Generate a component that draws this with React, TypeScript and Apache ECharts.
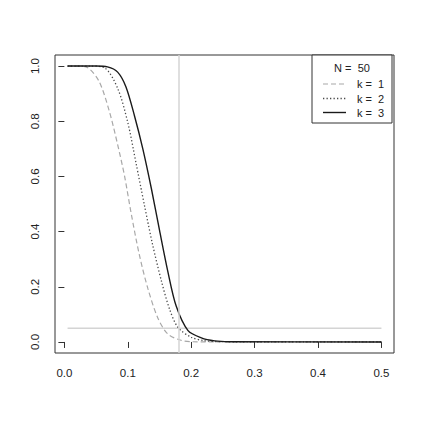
import React, { useEffect, useRef } from "react";
import * as echarts from "echarts";

const xTicks = [0, 0.1, 0.2, 0.3, 0.4, 0.5];
const yTicks = [0, 0.2, 0.4, 0.6, 0.8, 1.0];

const seriesNames = ["k =  1", "k =  2", "k =  3"];
const legendTitle = "N =  50";

const k1X = [0.005, 0.02, 0.037, 0.055, 0.071, 0.084, 0.095, 0.105, 0.118, 0.1315, 0.147, 0.163, 0.184, 0.2, 0.25, 0.5];
const k1Y = [1.0, 1.0, 0.994, 0.943, 0.835, 0.715, 0.6, 0.47, 0.318, 0.195, 0.089, 0.029, 0.006, 0.001, 0, 0];

const k2X = [0.005, 0.04, 0.063, 0.084, 0.1, 0.113, 0.126, 0.139, 0.153, 0.166, 0.179, 0.2, 0.22, 0.25, 0.5];
const k2Y = [1, 1, 0.994, 0.919, 0.795, 0.648, 0.498, 0.354, 0.221, 0.118, 0.053, 0.017, 0.005, 0.001, 0];

const k3X = [0.005, 0.05, 0.068, 0.084, 0.097, 0.1105, 0.1237, 0.137, 0.15, 0.163, 0.1763, 0.195, 0.216, 0.237, 0.26, 0.5];
const k3Y = [1, 1, 0.997, 0.978, 0.925, 0.82, 0.7, 0.558, 0.405, 0.257, 0.13, 0.041, 0.015, 0.004, 0.001, 0];

const refX = 0.177;
const refY = 0.05;
const refYRange = [0.005, 0.5];

const FONT = "'Liberation Sans', Arial, Helvetica, sans-serif";

export default function App() {
  const ref = useRef<HTMLDivElement>(null);
  useEffect(() => {
    if (!ref.current) return;
    const chart = echarts.init(ref.current, null, { renderer: "svg" });
    const zip = (xs: number[], ys: number[]) => xs.map((x, i) => [x, ys[i]]);
    const styles = [
      { color: "#a8a8a8", type: [5, 3] as any, width: 1.2 },
      { color: "#4a4a4a", type: [1.3, 2.2] as any, width: 1.3 },
      { color: "#1a1a1a", type: "solid" as any, width: 1.4 },
    ];
    const datas = [zip(k1X, k1Y), zip(k2X, k2Y), zip(k3X, k3Y)];
    const legendYs = [84, 98.5, 112.5];
    const option: any = {
      animation: false,
      grid: {
        left: 55,
        top: 55,
        right: 29,
        bottom: 70,
        show: true,
        borderColor: "#333",
        borderWidth: 1,
        backgroundColor: "transparent",
      },
      xAxis: {
        type: "value",
        min: -0.0148,
        max: 0.5198,
        axisLine: { show: false },
        splitLine: { show: false },
        axisTick: { show: true, length: 6, customValues: xTicks, lineStyle: { color: "#333" } },
        axisLabel: {
          customValues: xTicks,
          formatter: (v: number) => v.toFixed(1),
          margin: 14,
          fontSize: 11.5,
          color: "#222",
          fontFamily: FONT,
        },
      },
      yAxis: {
        type: "value",
        min: -0.04,
        max: 1.04,
        axisLine: { show: false },
        splitLine: { show: false },
        axisTick: { show: true, length: 6, customValues: yTicks, lineStyle: { color: "#333" } },
        axisLabel: {
          customValues: yTicks,
          formatter: (v: number) => v.toFixed(1),
          rotate: 90,
          margin: 14,
          fontSize: 11.5,
          color: "#222",
          fontFamily: FONT,
        },
      },
      series: [
        {
          type: "line",
          name: "ref",
          data: [[refYRange[0], refY], [refYRange[1], refY]],
          showSymbol: false,
          symbol: "none",
          silent: true,
          lineStyle: { color: "#d4d4d4", width: 1.5 },
          markLine: {
            silent: true,
            symbol: "none",
            label: { show: false },
            lineStyle: { color: "#d4d4d4", type: "solid", width: 1.5 },
            data: [{ xAxis: refX }],
          },
          z: 1,
        },
        ...datas.map((d, i) => ({
          type: "line",
          name: seriesNames[i],
          data: d,
          showSymbol: false,
          symbol: "none",
          smooth: 0.3,
          lineStyle: styles[i],
          z: 2 + i,
        })),
      ],
      graphic: [
        {
          type: "group",
          z: 100,
          children: [
            {
              type: "rect",
              shape: { x: 312, y: 55, width: 80, height: 68 },
              style: { fill: "#fff", stroke: "#333", lineWidth: 1 },
            },
            {
              type: "text",
              x: 352,
              y: 68,
              style: {
                text: legendTitle,
                fontSize: 11,
                fontFamily: FONT,
                fill: "#222",
                align: "center",
                verticalAlign: "middle",
              },
            },
            ...seriesNames.flatMap((n, i) => [
              {
                type: "line",
                shape: { x1: 323, y1: legendYs[i], x2: 346, y2: legendYs[i] },
                style: {
                  stroke: styles[i].color,
                  lineWidth: styles[i].width,
                  lineDash: styles[i].type === "solid" ? null : styles[i].type,
                },
              },
              {
                type: "text",
                x: 357,
                y: legendYs[i],
                style: {
                  text: n,
                  fontSize: 11,
                  fontFamily: FONT,
                  fill: "#222",
                  align: "left",
                  verticalAlign: "middle",
                },
              },
            ]),
          ],
        },
      ],
    };
    chart.setOption(option);
    return () => chart.dispose();
  }, []);
  return (
    <div
      ref={ref}
      style={{ position: "fixed", left: 0, top: 0, width: 423, height: 423, background: "#fff" }}
    />
  );
}
